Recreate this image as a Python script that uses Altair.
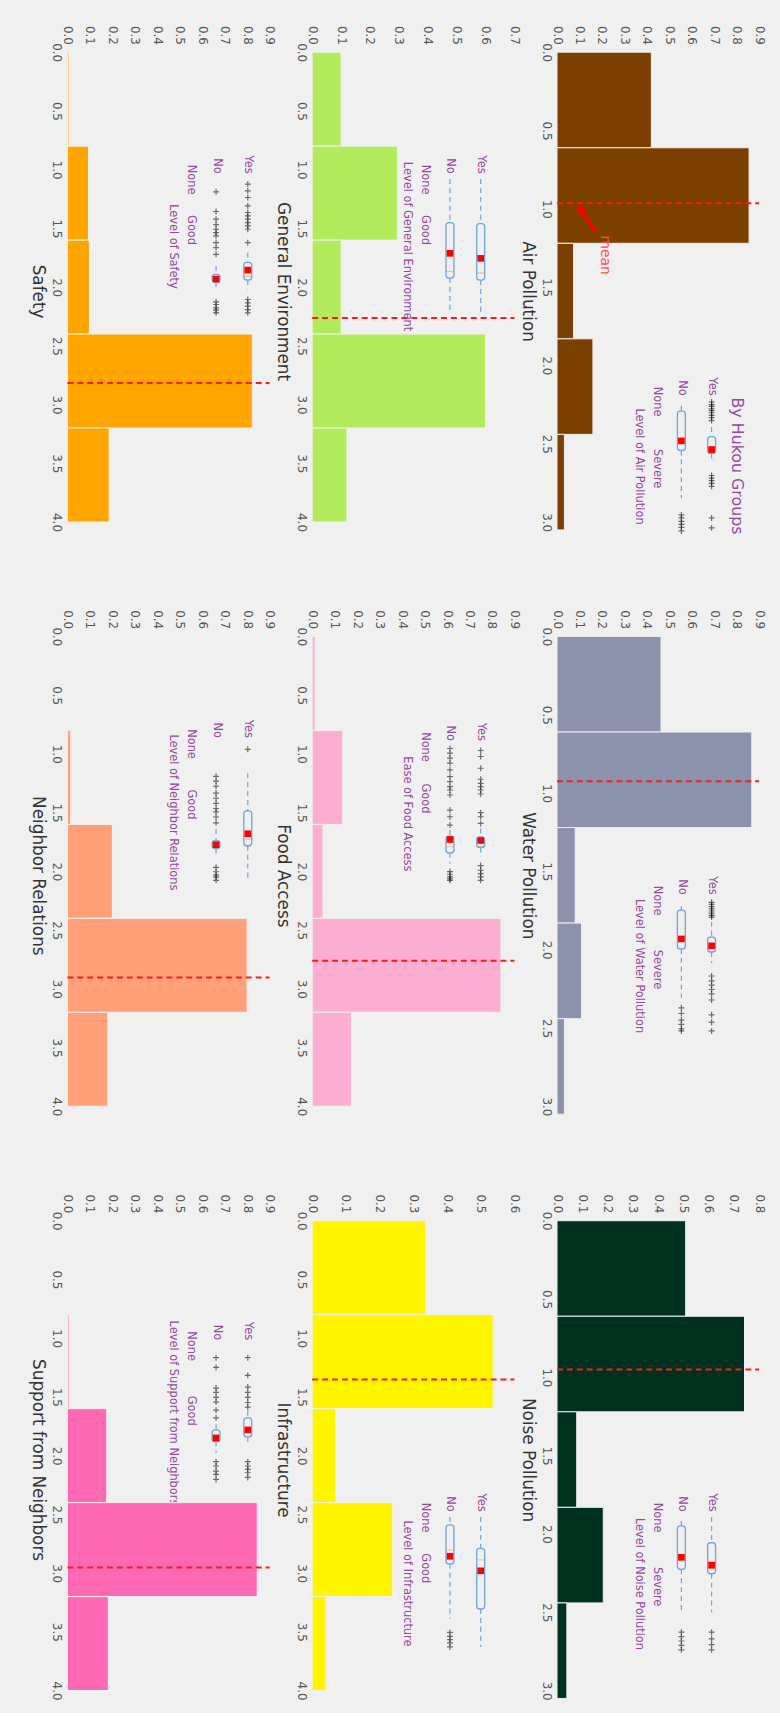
import altair as alt
import pandas as pd

# ---------------------------------------------------------------------------
# Data
# ---------------------------------------------------------------------------
metrics = ["Air Pollution", "Water Pollution", "Noise Pollution",
           "General Environment", "Food Access", "Infrastructure",
           "Safety", "Neighbor Relations", "Support from Neighbors"]

bar_colors = ["#7b3f00", "#8c92ac", "#013220",
              "#b2ec5d", "#fbaed2", "#fff500",
              "#ffa500", "#ffa07a", "#ff69b4"]

# histogram bin edges: pollution items are scored 0-3, the others 0-4
edges_pollution = [0.0, 0.61, 1.22, 1.83, 2.44, 3.05]
edges_level = [0.0, 0.8, 1.6, 2.4, 3.2, 4.0]

# normalised histogram heights (density) per bin
density_air = [0.420, 0.855, 0.074, 0.160, 0.033]
density_water = [0.463, 0.867, 0.081, 0.109, 0.033]
density_noise = [0.509, 0.742, 0.078, 0.183, 0.039]
density_general = [0.100, 0.295, 0.100, 0.600, 0.120]
density_food = [0.013, 0.136, 0.048, 0.840, 0.175]
density_infra = [0.337, 0.537, 0.070, 0.239, 0.041]
density_safety = [0.007, 0.094, 0.098, 0.823, 0.186]
density_neighbor = [0.000, 0.015, 0.200, 0.800, 0.180]
density_support = [0.000, 0.007, 0.175, 0.845, 0.182]
densities = [density_air, density_water, density_noise,
             density_general, density_food, density_infra,
             density_safety, density_neighbor, density_support]

means = [0.965, 0.925, 0.950, 2.264, 2.762, 1.352, 2.816, 2.903, 2.953]
value_max = [0.9, 0.9, 0.8, 0.7, 0.9, 0.6, 0.9, 0.9, 0.9]

# inset box plots (by hukou group)
inset_titles = ["Level of Air Pollution", "Level of Water Pollution",
                "Level of Noise Pollution", "Level of General Environment",
                "Ease of Food Access", "Level of Infrastructure",
                "Level of Safety", "Level of Neighbor Relations",
                "Level of Support from Neighbors"]
inset_high_label = ["Severe", "Severe", "Severe",
                    "Good", "Good", "Good", "Good", "Good", "Good"]
inset_high_tick = [1.55, 1.58, 1.56, 1.51, 1.54, 1.54, 1.51, 1.77, 1.93]

# lower whisker, q1, median, q3, upper whisker, mean
box_yes = [
    [0.60, 0.82, 1.10, 1.21, 1.33, 1.12],
    [0.50, 0.85, 1.00, 1.19, 1.44, 1.05],
    [0.00, 0.58, 1.00, 1.28, 2.15, 1.09],
    [0.00, 1.33, 2.81, 3.02, 4.00, 2.37],
    [2.45, 2.70, 3.00, 3.02, 3.30, 2.81],
    [0.00, 0.95, 1.30, 2.79, 3.94, 1.63],
    [2.20, 2.49, 2.90, 3.02, 3.30, 2.72],
    [0.87, 1.97, 2.80, 2.99, 4.00, 2.64],
    [1.95, 2.16, 2.60, 2.73, 2.90, 2.52],
]
box_no = [
    [0.11, 0.23, 0.90, 1.14, 2.24, 0.92],
    [0.14, 0.23, 0.85, 1.12, 2.24, 0.89],
    [0.09, 0.20, 0.85, 1.18, 2.15, 0.91],
    [0.00, 1.30, 2.76, 2.96, 4.00, 2.22],
    [2.50, 2.68, 3.00, 3.18, 3.50, 2.78],
    [0.00, 0.24, 1.00, 1.42, 3.08, 1.19],
    [2.60, 2.85, 3.00, 3.08, 3.30, 2.99],
    [2.50, 2.84, 3.00, 3.07, 3.30, 2.96],
    [2.35, 2.52, 2.80, 2.87, 3.20, 2.76],
]
fliers_yes = [
    [0.02, 0.08, 0.12, 0.18, 0.22, 0.27, 0.33, 0.38, 0.45,
     1.72, 1.78, 1.84, 1.90, 1.97, 2.70, 2.93],
    [0.05, 0.10, 0.15, 0.20, 0.25, 0.30, 0.35, 0.39,
     1.74, 1.85, 1.95, 2.05, 2.15, 2.29, 2.63, 2.80, 3.00],
    [2.60, 2.75, 2.88, 3.00],
    [],
    [0.12, 0.30, 0.65, 0.98, 1.10, 1.20, 1.30, 1.42, 1.98, 2.10, 2.30,
     3.56, 3.70, 3.80, 3.90, 4.00],
    [],
    [0.15, 0.35, 0.55, 0.80, 1.00, 1.10, 1.20, 1.30, 1.40, 1.50, 1.90,
     3.60, 3.70, 3.80, 3.90, 4.00],
    [0.17],
    [0.36, 0.89, 1.24, 1.40, 1.55, 1.70, 1.84, 3.47, 3.60, 3.70, 3.80, 3.94],
]
fliers_no = [
    [2.63, 2.70, 2.78, 2.85, 2.92, 3.00],
    [2.47, 2.60, 2.75, 2.85, 2.95, 3.00],
    [2.60, 2.70, 2.80, 2.90, 3.00],
    [],
    [0.06, 0.20, 0.35, 0.50, 0.70, 0.90, 1.05, 1.20, 1.30, 1.45, 1.90, 2.10,
     2.35, 3.74, 3.82, 3.90, 3.96, 4.00],
    [3.50, 3.62, 3.72, 3.82, 3.94],
    [0.38, 0.97, 1.20, 1.36, 1.50, 1.60, 1.70, 1.90, 2.05, 2.25,
     3.67, 3.75, 3.85, 3.92, 4.00],
    [0.96, 1.10, 1.25, 1.45, 1.60, 1.75, 1.90, 2.00, 2.15, 2.32,
     3.62, 3.75, 3.85, 3.91, 4.00],
    [0.36, 0.65, 1.27, 1.40, 1.55, 1.69, 1.93, 2.16,
     3.47, 3.60, 3.75, 3.85, 4.00],
]

# "mean" call-out on the air pollution panel
mean_label = ["mean"]
mean_label_pos = [0.215, 1.17]          # density, score
mean_arrow_tail = [0.172, 1.15]
mean_arrow_head = [0.103, 0.997]

# ---------------------------------------------------------------------------
# Styling / layout
# ---------------------------------------------------------------------------
FONT = "DejaVu Sans"
TICK_GRAY = "#555555"
TITLE_GRAY = "#333333"
PURPLE = "#93479d"
BOX_BLUE = "#72a2da"
BG = "#f0f0f0"
PANEL_W, PANEL_H = 204, 482
LEVEL_PX = 474.0                        # pixels spanned by a 0-4 score axis

# inset placement inside a panel, per grid column: x of "No", x of "Yes",
# x of the level axis (pixels from the panel's left edge)
INSET_X = {0: (150, 182, 132.5), 1: (139, 170, 121.5), 2: (125.5, 156, 108)}
# vertical placement of each inset's level axis: (offset, length) in pixels
inset_place = [(352, 131), (266, 132), (299, 134),
               (128, 135), (111, 135), (299, 133),
               (128, 135), (108, 138), (126, 135)]


def main_layers(m):
    pollution = m < 3
    edges = edges_pollution if pollution else edges_level
    ymax = 3.05 if pollution else 4.0 * PANEL_H / LEVEL_PX
    y_ticks = [k * 0.5 for k in range(7 if pollution else 9)]
    vmax = value_max[m]
    x_ticks = [round(k * 0.1, 1) for k in range(int(round(vmax * 10)) + 1)]

    xs = alt.Scale(domain=[0, vmax], nice=False, zero=False)
    ys = alt.Scale(domain=[0, ymax], nice=False, zero=False, reverse=True)

    x_axis = alt.Axis(orient="top", values=x_ticks, format=".1f", title=None,
                      labelAngle=90, labelAlign="right", labelBaseline="middle",
                      labelPadding=8, ticks=False, domain=False, grid=False,
                      labelFlush=False, labelOverlap=False,
                      labelColor=TICK_GRAY, labelFontSize=12, labelFont=FONT)
    y_axis = alt.Axis(orient="left", values=y_ticks, format=".1f",
                      labelAngle=90, labelAlign="center", labelBaseline="top",
                      labelPadding=6, ticks=False, domain=False, grid=False,
                      labelFlush=False, labelOverlap=False,
                      labelColor=TICK_GRAY, labelFontSize=12, labelFont=FONT,
                      title=metrics[m], titleAngle=90, titleBaseline="top",
                      titleAlign="center", titlePadding=5, titleFontSize=17,
                      titleFontWeight="normal", titleColor=TITLE_GRAY,
                      titleFont=FONT)

    hist = pd.DataFrame({"lo": edges[:-1], "hi": edges[1:],
                         "density": densities[m], "zero": 0.0})
    bars = alt.Chart(hist).mark_rect(
        color=bar_colors[m], stroke=BG, strokeWidth=1
    ).encode(
        x=alt.X("density:Q", scale=xs, axis=x_axis),
        x2="zero:Q",
        y=alt.Y("lo:Q", scale=ys, axis=y_axis),
        y2="hi:Q",
    )

    rule_df = pd.DataFrame({"mean": [means[m]], "x0": [0.0], "x1": [vmax]})
    mean_rule = alt.Chart(rule_df).mark_rule(
        color="#ff1a1a", strokeDash=[6, 4], strokeWidth=2
    ).encode(
        x=alt.X("x0:Q", scale=xs, axis=None),
        x2="x1:Q",
        y=alt.Y("mean:Q", scale=ys, axis=None),
    )
    layers = [bars, mean_rule]

    if m == 0:
        lab = pd.DataFrame({"v": [mean_label_pos[0]], "s": [mean_label_pos[1]],
                            "t": mean_label})
        txt = alt.Chart(lab).mark_text(
            angle=90, align="left", baseline="middle", color="#ff4c4c",
            fontSize=14, font=FONT
        ).encode(
            x=alt.X("v:Q", scale=xs, axis=None),
            y=alt.Y("s:Q", scale=ys, axis=None),
            text="t:N",
        )
        arr = pd.DataFrame({"v0": [mean_arrow_tail[0]], "s0": [mean_arrow_tail[1]],
                            "v1": [mean_arrow_head[0]], "s1": [mean_arrow_head[1]]})
        shaft = alt.Chart(arr).mark_rule(color="#ff0000", strokeWidth=3.5).encode(
            x=alt.X("v0:Q", scale=xs, axis=None),
            y=alt.Y("s0:Q", scale=ys, axis=None),
            x2="v1:Q", y2="s1:Q",
        )
        head = alt.Chart(arr).mark_point(
            shape="triangle-up", angle=327, size=110, filled=True,
            color="#ff0000", opacity=1
        ).encode(
            x=alt.X("v1:Q", scale=xs, axis=None),
            y=alt.Y("s1:Q", scale=ys, axis=None),
        )
        layers += [shaft, head, txt]
    return layers


def inset_layers(m, grid_col):
    pollution = m < 3
    x_no, x_yes, axis_x = INSET_X[grid_col]
    p0, plen = inset_place[m]
    top = 3 if pollution else 4

    gx = alt.Scale(type="point", domain=["No", "Yes"], range=[x_no, x_yes],
                   padding=0)
    gy = alt.Scale(domain=[0, top], range=[p0, p0 + plen], nice=False,
                   zero=False)

    group_axis = alt.Axis(orient="top", offset=-(p0 - 4), title=None,
                          ticks=False, domain=False, grid=False,
                          labelAngle=90, labelAlign="right",
                          labelBaseline="middle", labelPadding=2,
                          labelColor=PURPLE, labelFontSize=11.5,
                          labelFont=FONT)
    level_axis = alt.Axis(
        orient="left", offset=-axis_x,
        values=[0, inset_high_tick[m]],
        labelExpr="datum.value == 0 ? 'None' : '%s'" % inset_high_label[m],
        labelAngle=90, labelAlign="center", labelBaseline="top",
        labelPadding=2, labelFlush=False, labelOverlap=False,
        ticks=False, domain=False, grid=False,
        labelColor=PURPLE, labelFontSize=11.5, labelFont=FONT,
        title=inset_titles[m], titleAngle=90, titleBaseline="top",
        titleAlign="center", titlePadding=6.5, titleFontSize=11.5,
        titleFontWeight="normal", titleColor=PURPLE, titleFont=FONT)

    cols = ["group", "lw", "q1", "med", "q3", "uw", "mean"]
    stats = pd.DataFrame([["Yes"] + box_yes[m], ["No"] + box_no[m]],
                         columns=cols)
    fy, fn = fliers_yes[m], fliers_no[m]
    fl = pd.DataFrame({"group": ["Yes"] * len(fy) + ["No"] * len(fn),
                       "level": fy + fn})

    gx_enc = alt.X("group:N", scale=gx, axis=None)

    whisk_lo = alt.Chart(stats).mark_rule(
        color=BOX_BLUE, strokeDash=[5, 4], strokeWidth=1.2
    ).encode(x=gx_enc, y=alt.Y("lw:Q", scale=gy, axis=None), y2="q1:Q")
    whisk_hi = alt.Chart(stats).mark_rule(
        color=BOX_BLUE, strokeDash=[5, 4], strokeWidth=1.2
    ).encode(x=gx_enc, y=alt.Y("q3:Q", scale=gy, axis=None), y2="uw:Q")
    box = alt.Chart(stats).mark_bar(
        size=8, fill=BG, fillOpacity=0, stroke=BOX_BLUE, strokeWidth=1.3,
        cornerRadius=3
    ).encode(
        x=alt.X("group:N", scale=gx, axis=group_axis),
        y=alt.Y("q1:Q", scale=gy, axis=level_axis),
        y2="q3:Q",
    )
    med = alt.Chart(stats).mark_tick(
        color="#f5a040", size=7, thickness=1, opacity=0.7
    ).encode(x=gx_enc, y=alt.Y("med:Q", scale=gy, axis=None))
    fliers = alt.Chart(fl).mark_point(
        shape="M-1,0L1,0M0,-1L0,1", size=36, strokeWidth=1.2, color="black",
        opacity=0.55, filled=False
    ).encode(x=gx_enc, y=alt.Y("level:Q", scale=gy, axis=None))
    mean_sq = alt.Chart(stats).mark_square(
        size=45, color="#ff0000", opacity=1
    ).encode(x=gx_enc, y=alt.Y("mean:Q", scale=gy, axis=None))

    layers = [whisk_lo, whisk_hi, box, med, fliers, mean_sq]
    if m == 0:
        ttl = pd.DataFrame({"group": ["Yes"], "level": [1.5],
                            "t": ["By Hukou Groups"]})
        layers.append(alt.Chart(ttl).mark_text(
            angle=90, align="center", baseline="middle", dy=-26,
            fontSize=16, color=PURPLE, font=FONT
        ).encode(x=gx_enc, y=alt.Y("level:Q", scale=gy, axis=None),
                 text="t:N"))
    return layers


def panel(m, grid_col):
    # every layer carries explicit scale domains, so independent scales line up
    layers = main_layers(m) + inset_layers(m, grid_col)
    return alt.layer(*layers).resolve_scale(
        x="independent", y="independent"
    ).properties(width=PANEL_W, height=PANEL_H)


# grid: each row shows one item of every block, left to right
# (Safety block, General-environment block, Pollution block)
panels = []
for r in range(3):
    for j in range(3):
        m = (2 - j) * 3 + r
        panels.append(panel(m, j))

chart = alt.concat(
    *panels, columns=3, bounds="flush",
    spacing=alt.RowColnumber(row=107.5, column=43)
).properties(
    padding={"left": 30, "top": 17, "right": 15, "bottom": 5}
).configure(
    background=BG, font=FONT
).configure_view(stroke=None)

chart.save("out.html", embed_options={"renderer": "svg", "actions": False})
